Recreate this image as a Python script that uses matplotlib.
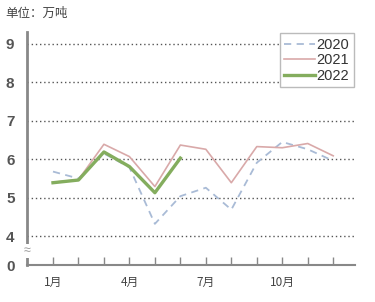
import numpy as np
import matplotlib
matplotlib.use("Agg")
import matplotlib.pyplot as plt

plt.rcParams['font.family'] = ['Liberation Sans', 'Noto Sans CJK SC', 'DejaVu Sans']

# 月度数据（单位：万吨）
months = list(range(1, 13))
y2020 = [5.68, 5.50, 6.15, 5.79, 4.32, 5.04, 5.26, 4.69, 5.91, 6.45, 6.26, 5.96]
y2021 = [5.40, 5.47, 6.39, 6.07, 5.29, 6.37, 6.26, 5.39, 6.33, 6.30, 6.41, 6.09]
y2022 = [5.39, 5.46, 6.19, 5.81, 5.13, 6.03]
xtick_pos = [1, 4, 7, 10]
xtick_labels = ['1月', '4月', '7月', '10月']
ytick_vals = [4, 5, 6, 7, 8, 9]

# 纵轴断开：0 画在 3.25 的位置
y_zero = 3.25

fig = plt.figure(figsize=(3.75, 3.02), dpi=100)
ax = fig.add_axes([0.072, 0.1225, 0.875, 0.7715])

ax.plot(months, y2020, color='#a9bbd6', lw=1.3, ls=(0, (4, 3)), label='2020')
ax.plot(months, y2021, color='#d9a9a9', lw=1.2, label='2021')
ax.plot(months[:len(y2022)], y2022, color='#84ad5e', lw=2.4, label='2022')

for v in ytick_vals:
    ax.axhline(v, color='#555555', lw=1.0, ls=(0, (1, 2)), zorder=0)

ax.set_xlim(-0.02, 12.86)
ax.set_ylim(y_zero, 9.31)

ax.set_yticks([y_zero] + ytick_vals)
ax.set_yticklabels(['0'] + [str(v) for v in ytick_vals], fontsize=11,
                   fontweight='bold', color='#555555')
ax.tick_params(axis='y', length=0, pad=9)

ax.set_xticks(months)
ax.set_xticklabels(['' if m not in xtick_pos else xtick_labels[xtick_pos.index(m)] for m in months],
                   fontsize=8.5, color='#444444', family=['Noto Sans CJK SC', 'DejaVu Sans'])
ax.tick_params(axis='x', direction='in', length=6, width=1, color='#888888', pad=8)

for s in ['top', 'right']:
    ax.spines[s].set_visible(False)
ax.spines['left'].set_color('#888888')
ax.spines['left'].set_linewidth(2)
ax.spines['bottom'].set_color('#888888')
ax.spines['bottom'].set_linewidth(1.5)

# 断轴符号
ax.text(0, 3.62, '≈', transform=ax.get_yaxis_transform(), ha='center', va='center',
        fontsize=9, color='#999999',
        bbox=dict(facecolor='white', edgecolor='none', pad=0.6))

leg = ax.legend(loc='upper right', fontsize=10.5, handlelength=2.1, handletextpad=0.1,
                borderaxespad=0.1, borderpad=0.3, labelspacing=0.1, fancybox=False,
                framealpha=1)
leg.get_frame().set_edgecolor('#bbbbbb')
for t in leg.get_texts():
    t.set_color('#333333')

fig.text(0.013, 0.955, '单位：万吨', fontsize=9, color='#444444', va='center',
         family=['Noto Sans CJK SC', 'DejaVu Sans'])

plt.savefig('out.png', dpi=100)
